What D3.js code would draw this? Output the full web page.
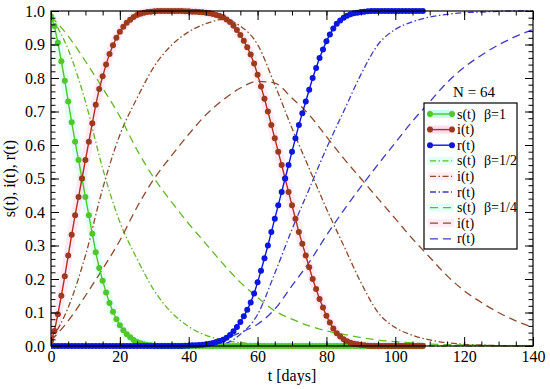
<!DOCTYPE html>
<html><head><meta charset="utf-8">
<script src="https://cdn.jsdelivr.net/npm/d3@7"></script>
<style>body{margin:0;background:#fff} svg{display:block}</style>
</head><body>
<svg id="c" width="550" height="389"></svg>
<script>
// ---- data ----
const days = d3.range(0, 109);
const s1 = [
0.984,0.955,0.905,0.850,0.792,0.730,0.668,0.610,0.555,0.500,
0.445,0.390,0.335,0.280,0.233,0.195,0.160,0.128,0.102,0.080,
0.062,0.047,0.035,0.026,0.018,0.012,0.008,0.005,0.003,0.002,
0.001,0,0,0,0,0,0,0,0,0,
0,0,0,0,0,0,0,0,0,0,
0,0,0,0,0,0,0,0,0,0,
0,0,0,0,0,0,0,0,0,0,
0,0,0,0,0,0,0,0,0,0,
0,0,0,0,0,0,0,0,0,0,
0,0,0,0,0,0,0,0,0,0,
0,0,0,0,0,0,0,0,0];
const i1 = [
0.016,0.045,0.095,0.150,0.208,0.270,0.332,0.390,0.445,0.500,
0.555,0.610,0.665,0.720,0.767,0.805,0.840,0.872,0.898,0.920,
0.938,0.953,0.965,0.974,0.982,0.988,0.992,0.995,0.997,0.998,
0.999,1,1,1,1,1,1,1,1,0.999,
0.999,0.998,0.998,0.997,0.996,0.995,0.993,0.991,0.988,0.985,
0.981,0.975,0.967,0.956,0.943,0.928,0.911,0.892,0.870,0.843,
0.810,0.775,0.738,0.700,0.660,0.620,0.580,0.540,0.500,0.460,
0.420,0.380,0.340,0.305,0.270,0.235,0.200,0.170,0.140,0.115,
0.090,0.070,0.052,0.038,0.028,0.020,0.014,0.010,0.007,0.005,
0.003,0.002,0.001,0,0,0,0,0,0,0,
0,0,0,0,0,0,0,0,0];
const r1 = [
0,0,0,0,0,0,0,0,0,0,
0,0,0,0,0,0,0,0,0,0,
0,0,0,0,0,0,0,0,0,0,
0,0,0,0,0,0,0,0,0,0.001,
0.001,0.002,0.002,0.003,0.004,0.005,0.007,0.009,0.012,0.015,
0.019,0.025,0.033,0.044,0.057,0.072,0.089,0.108,0.130,0.157,
0.190,0.225,0.262,0.300,0.340,0.380,0.420,0.460,0.500,0.540,
0.580,0.620,0.660,0.695,0.730,0.765,0.800,0.830,0.860,0.885,
0.910,0.930,0.948,0.962,0.972,0.980,0.986,0.990,0.993,0.995,
0.997,0.998,0.999,1,1,1,1,1,1,1,
1,1,1,1,1,1,1,1,1];

const t5 = [0,5,10,15,20,25,30,35,40,45,50,55,60,65,70,75,80,85,90,95,100,105,110,115,120,125,130,135,140];
const sHalf = [0.984,0.885,0.730,0.530,0.370,0.260,0.165,0.100,0.058,0.032,0.018,0.010,0.006,0.003,0.002,0.001,0,0,0,0,0,0,0,0,0,0,0,0,0];
const iHalf = [0.016,0.115,0.270,0.470,0.630,0.740,0.835,0.898,0.938,0.962,0.975,0.955,0.900,0.780,0.650,0.530,0.410,0.300,0.190,0.100,0.055,0.032,0.018,0.010,0.005,0.003,0.001,0,0];
const rHalf = [0,0,0,0,0,0,0,0.002,0.004,0.006,0.007,0.035,0.094,0.217,0.348,0.469,0.590,0.700,0.810,0.900,0.945,0.968,0.982,0.990,0.995,0.997,0.999,1,1];
const sQuarter = [0.984,0.925,0.850,0.770,0.685,0.585,0.500,0.430,0.365,0.305,0.245,0.190,0.145,0.105,0.080,0.060,0.045,0.035,0.025,0.018,0.013,0.009,0.006,0.004,0.003,0.002,0.001,0.001,0];
const iQuarter = [0.016,0.075,0.150,0.230,0.315,0.415,0.500,0.568,0.632,0.690,0.735,0.770,0.790,0.785,0.740,0.690,0.625,0.560,0.500,0.440,0.380,0.320,0.265,0.210,0.165,0.130,0.100,0.075,0.055];
const rQuarter = [0,0,0,0,0,0,0,0.002,0.003,0.005,0.020,0.040,0.065,0.110,0.180,0.250,0.330,0.405,0.475,0.542,0.607,0.671,0.729,0.786,0.832,0.868,0.899,0.924,0.945];

const xMajor = [0,20,40,60,80,100,120,140];
const yMajor = [0,0.1,0.2,0.3,0.4,0.5,0.6,0.7,0.8,0.9,1.0];
const legendLabels = ["s(t)","i(t)","r(t)","s(t)","i(t)","r(t)","s(t)","i(t)","r(t)"];
const legendBetas = ["β=1","","","β=1/2","","","β=1/4","",""];

// ---- pick an installed serif font ----
function pickFont(cands){
  const cv = document.createElement("canvas").getContext("2d");
  const sample = "t [days] s(t), i(t) 0.123456789 N = 64 β";
  const widthOf = f => { cv.font = "20px " + f; return cv.measureText(sample).width; };
  for (const c of cands){
    const q = `"${c}"`;
    if (widthOf(q + ", monospace") !== widthOf("monospace") && widthOf(q + ", sans-serif") !== widthOf("sans-serif")) return q;
  }
  return "serif";
}
const FONT = pickFont(["Liberation Serif","Times New Roman","Tinos","DejaVu Serif","Noto Serif","Times"]);

// ---- styles ----
const GREEN = "#4fc72a", RED = "#b0301c", REDM = "#9c3a1e", BLUE = "#0b16e0";
const GREEN2 = "#62b825", BROWN2 = "#8e4a2a", BLUE2 = "#3c3cc4";
const DASHDOT = "6,2.5,1.5,2.5", DASHED = "8,5";

const svg = d3.select('#c');
const M = {l:51, r:533, t:11, b:346};
const x = d3.scaleLinear().domain([0,140]).range([M.l, M.r]);
const y = d3.scaleLinear().domain([0,1]).range([M.b, M.t]);

svg.append("defs").append("clipPath").attr("id","clip")
  .append("rect").attr("x",M.l).attr("y",M.t-4).attr("width",M.r-M.l).attr("height",M.b-M.t+8);

const line = d3.line().x(d=>x(d.t)).y(d=>y(d.v));
const smooth = d3.line().x(d=>x(d.t)).y(d=>y(d.v)).curve(d3.curveMonotoneX);
const daily = arr => days.map((t,k)=>({t, v:arr[k]}));
const five = arr => t5.map((t,k)=>({t, v:arr[k]}));

const plot = svg.append("g").attr("clip-path","url(#clip)");

// faint halos
plot.append("path").attr("d", line(daily(s1))).attr("fill","none")
  .attr("stroke","#a8f7e2").attr("stroke-opacity",0.3).attr("stroke-width",9).attr("stroke-linejoin","round");
plot.append("path").attr("d", line(daily(i1))).attr("fill","none")
  .attr("stroke","#ffbde0").attr("stroke-opacity",0.3).attr("stroke-width",9).attr("stroke-linejoin","round");

// smooth lines
const smoothSeries = [
  [sHalf, GREEN2, DASHDOT],[iHalf, BROWN2, DASHDOT],[rHalf, BLUE2, DASHDOT],
  [sQuarter, GREEN2, DASHED],[iQuarter, BROWN2, DASHED],[rQuarter, BLUE2, DASHED]
];
smoothSeries.forEach(([arr,c,dash])=>{
  plot.append("path").attr("d", smooth(five(arr))).attr("fill","none")
    .attr("stroke",c).attr("stroke-width",1.3).attr("stroke-dasharray",dash);
});

// marker series
const markerSeries = [[s1, GREEN, GREEN],[i1, RED, REDM],[r1, BLUE, BLUE]];
markerSeries.forEach(([arr,c,mc])=>{
  const g = plot.append("g");
  g.append("path").attr("d", line(daily(arr))).attr("fill","none").attr("stroke",c).attr("stroke-width",1.4);
  g.selectAll("circle").data(daily(arr)).join("circle")
    .attr("cx",d=>x(d.t)).attr("cy",d=>y(d.v)).attr("r",3).attr("fill",mc);
});

// axes
function styleAxis(g){ g.attr("font-family",FONT).attr("font-size",16); g.select(".domain").remove(); g.selectAll("line").attr("stroke","#000"); g.selectAll("text").attr("fill","#000"); }
const xMinor = d3.range(0,141,5), yMinor = d3.range(0,51).map(k=>k/50);
svg.append("g").attr("transform",`translate(0,${M.b})`).call(d3.axisBottom(x).tickValues(xMajor).tickSize(-9).tickPadding(5).tickFormat(d3.format("d"))).call(styleAxis);
svg.append("g").attr("transform",`translate(0,${M.b})`).call(d3.axisBottom(x).tickValues(xMinor).tickSize(-4.5).tickFormat("")).call(styleAxis);
svg.append("g").attr("transform",`translate(0,${M.t})`).call(d3.axisTop(x).tickValues(xMajor).tickSize(-9).tickFormat("")).call(styleAxis);
svg.append("g").attr("transform",`translate(0,${M.t})`).call(d3.axisTop(x).tickValues(xMinor).tickSize(-4.5).tickFormat("")).call(styleAxis);
svg.append("g").attr("transform",`translate(${M.l},0)`).call(d3.axisLeft(y).tickValues(yMajor).tickSize(-8).tickPadding(6).tickFormat(d3.format(".1f"))).call(styleAxis);
svg.append("g").attr("transform",`translate(${M.l},0)`).call(d3.axisLeft(y).tickValues(yMinor).tickSize(-4.5).tickFormat("")).call(styleAxis);
svg.append("g").attr("transform",`translate(${M.r},0)`).call(d3.axisRight(y).tickValues(yMajor).tickSize(-8).tickFormat("")).call(styleAxis);
svg.append("g").attr("transform",`translate(${M.r},0)`).call(d3.axisRight(y).tickValues(yMinor).tickSize(-4.5).tickFormat("")).call(styleAxis);

svg.append("rect").attr("x",M.l).attr("y",M.t).attr("width",M.r-M.l).attr("height",M.b-M.t)
  .attr("fill","none").attr("stroke","#000").attr("stroke-width",1.2);

// titles
svg.append("text").attr("x",(M.l+M.r)/2).attr("y",381).attr("text-anchor","middle")
  .attr("font-family",FONT).attr("font-size",16).text("t [days]");
svg.append("text").attr("transform",`translate(15,${(M.t+M.b)/2}) rotate(-90)`).attr("text-anchor","middle")
  .attr("font-family",FONT).attr("font-size",16).text("s(t), i(t), r(t)");
svg.append("text").attr("x",474).attr("y",97).attr("text-anchor","middle")
  .attr("font-family",FONT).attr("font-size",15).text("N = 64");

// legend
const lg = svg.append("g").attr("font-family",FONT);
lg.append("rect").attr("x",424).attr("y",103).attr("width",93).attr("height",146)
  .attr("fill","#fff").attr("stroke","#000").attr("stroke-width",1.2);
const legendStyles = [
  [GREEN,null,true,"#c8fcef"],[RED,null,true,"#ffdcec"],[BLUE,null,true,null],
  [GREEN2,DASHDOT,false,"#e2fff7"],[BROWN2,DASHDOT,false,"#ffebf3"],[BLUE2,DASHDOT,false,null],
  [GREEN2,DASHED,false,"#e2fff7"],[BROWN2,DASHED,false,"#ffebf3"],[BLUE2,DASHED,false,null]
];
legendLabels.forEach((lab,k)=>{
  const cy = 114 + k*15.6;
  const [c,dash,mk,halo] = legendStyles[k];
  if (halo) lg.append("rect").attr("x",428).attr("y",cy-4).attr("width",26).attr("height",8).attr("fill",halo);
  lg.append("line").attr("x1",430).attr("x2",452).attr("y1",cy).attr("y2",cy)
    .attr("stroke",c).attr("stroke-width",mk?1.4:1.3).attr("stroke-dasharray",dash);
  if (mk) [430,452].forEach(cx=>lg.append("circle").attr("cx",cx).attr("cy",cy).attr("r",3).attr("fill",k===1?REDM:c));
  lg.append("text").attr("x",457).attr("y",cy+4.5).attr("font-size",14).text(lab);
  if (legendBetas[k]) lg.append("text").attr("x",484).attr("y",cy+4.5).attr("font-size",14).text(legendBetas[k]);
});
</script>
</body></html>
